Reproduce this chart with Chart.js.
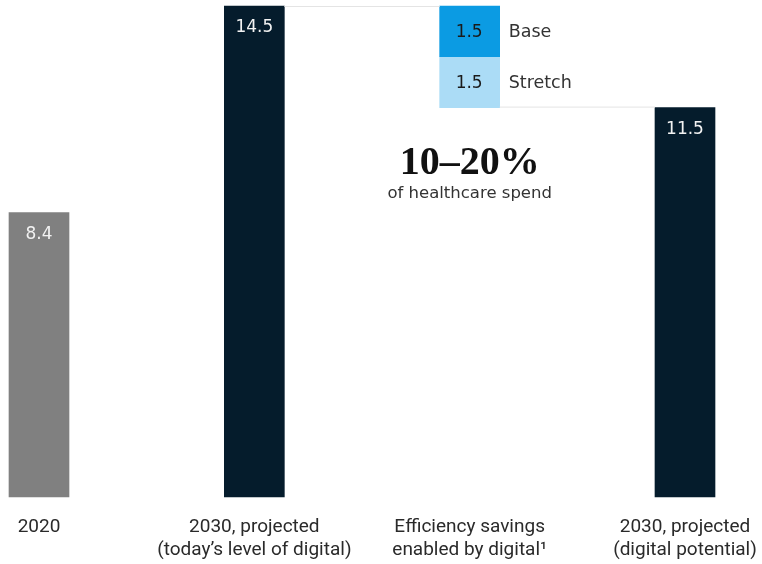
<!DOCTYPE html>
<html>
<head>
<meta charset="utf-8">
<script src="https://cdn.jsdelivr.net/npm/chart.js@4.4.0/dist/chart.umd.min.js"></script>
<style>
  html, body { margin: 0; padding: 0; background: #fff; }
  #wrap { width: 762px; height: 564px; }
</style>
</head>
<body>
<div id="wrap"><canvas id="grafico"></canvas></div>
<script>
// categorias y valores
const categorias = [
    ["2020"],
    ["2030, projected", "(today\u2019s level of digital)"],
    ["Efficiency savings", "enabled by digital\u00b9"],
    ["2030, projected", "(digital potential)"]
];
const totales = [8.4, 14.5, null, 11.5];
const ahorroBase = 1.5;
const ahorroStretch = 1.5;
const nombresAhorro = ["Base", "Stretch"];

// tramos flotantes del waterfall
const tramoBase = [totales[1] - ahorroBase, totales[1]];
const tramoStretch = [totales[1] - ahorroBase - ahorroStretch, totales[1] - ahorroBase];

const colores = ['#808080', '#051c2c', '#0b9be3', '#051c2c'];

let datosPrincipal = totales.map(v => v === null ? tramoBase : [0, v]);
let datosStretch = totales.map(v => v === null ? tramoStretch : null);

const etiquetasPlugin = {
    id: 'etiquetas',
    afterDatasetsDraw(chart) {
        let ctx = chart.ctx;
        let barras = chart.getDatasetMeta(0).data;
        let barrasS = chart.getDatasetMeta(1).data;
        ctx.save();

        // lineas de conexion
        ctx.strokeStyle = '#e4e4e4';
        ctx.lineWidth = 1;
        ctx.beginPath();
        ctx.moveTo(barras[1].x + 30, barras[1].y + 0.5);
        ctx.lineTo(barras[2].x - 30, barras[1].y + 0.5);
        ctx.moveTo(barrasS[2].x + 30, barrasS[2].base - 0.5);
        ctx.lineTo(barras[3].x - 30, barrasS[2].base - 0.5);
        ctx.stroke();

        // valores dentro de las barras
        ctx.font = '17px "DejaVu Sans"';
        ctx.textAlign = 'center';
        ctx.textBaseline = 'middle';
        ctx.fillStyle = '#f2f2f2';
        totales.forEach((v, i) => {
            if (v === null) return;
            ctx.fillText(v.toFixed(1), barras[i].x, barras[i].y + 22);
        });

        // ahorros
        let b = barras[2];
        let s = barrasS[2];
        ctx.textAlign = 'right';
        ctx.fillStyle = '#1a1a1a';
        ctx.fillText(ahorroBase.toFixed(1), b.x + 13, (b.y + b.base) / 2 + 1);
        ctx.fillText(ahorroStretch.toFixed(1), s.x + 13, (s.y + s.base) / 2 + 1);
        ctx.textAlign = 'left';
        ctx.font = '17.5px "DejaVu Sans"';
        ctx.fillStyle = '#333333';
        ctx.fillText(nombresAhorro[0], b.x + 39, (b.y + b.base) / 2 + 1);
        ctx.fillText(nombresAhorro[1], s.x + 39, (s.y + s.base) / 2 + 1);

        // anotacion
        ctx.textAlign = 'center';
        ctx.fillStyle = '#111111';
        ctx.font = 'bold 40px "Liberation Serif"';
        ctx.fillText('10\u201320%', b.x, 164);
        ctx.font = '16.5px "DejaVu Sans"';
        ctx.fillStyle = '#333333';
        ctx.fillText('of healthcare spend', b.x, 194);
        ctx.restore();
    }
};

let config = {
    type: 'bar',
    data: {
        labels: categorias,
        datasets: [
            {
                label: 'principal',
                data: datosPrincipal,
                backgroundColor: colores,
                barThickness: 60,
                grouped: false,
                clip: false
            },
            {
                label: 'stretch',
                data: datosStretch,
                backgroundColor: '#abdcf6',
                barThickness: 60,
                grouped: false,
                clip: false
            }
        ]
    },
    options: {
        responsive: true,
        maintainAspectRatio: false,
        animation: false,
        layout: {
            padding: { top: 6, left: 39, right: 77, bottom: 0 }
        },
        plugins: {
            legend: { display: false },
            tooltip: { enabled: false }
        },
        scales: {
            x: {
                offset: false,
                grid: { display: false },
                border: { display: false },
                ticks: {
                    color: '#2a2a2a',
                    font: { family: 'Roboto', size: 19, lineHeight: 1.24 },
                    padding: 10,
                    maxRotation: 0,
                    autoSkip: false
                },
                afterFit(scale) {
                    scale.height = 67;
                    scale.paddingLeft = 0;
                    scale.paddingRight = 0;
                }
            },
            y: {
                display: false,
                min: 0,
                max: 14.5
            }
        }
    },
    plugins: [etiquetasPlugin]
};

new Chart(document.getElementById('grafico').getContext('2d'), config);
</script>
</body>
</html>
